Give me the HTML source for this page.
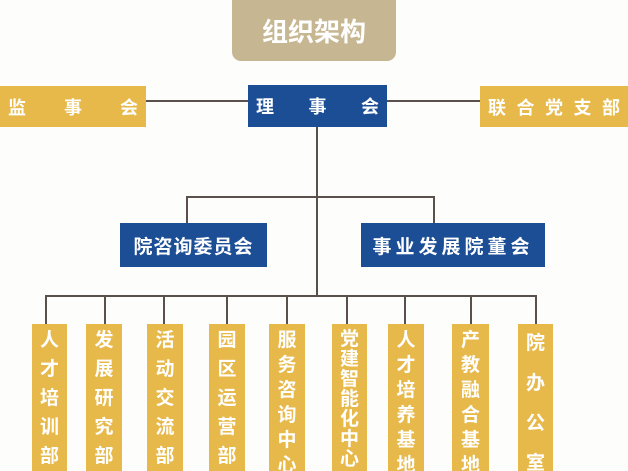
<!DOCTYPE html>
<html><head><meta charset="utf-8"><style>
body{margin:0;width:628px;height:471px;background:#fdfdfc;position:relative;overflow:hidden;font-family:"Liberation Sans","Noto Sans CJK SC",sans-serif;font-weight:bold;color:#fff}
.b{position:absolute;box-sizing:border-box}
.y{background:#e7b94a}
.bl{background:#1c4e96}
.l{position:absolute;background:#5a514c}
.row{display:flex;justify-content:space-between;align-items:center;padding:0 10px}
.v{top:324px;height:147px;overflow:hidden;text-align:center;font-size:19px}
.v span{display:block}
.c5{padding-top:2px;line-height:29px}
.c6{padding-top:4px;line-height:25px}
.c7{padding-top:6px;line-height:20px}
.c4{padding-top:0;line-height:40px;padding-top:0}
</style></head><body>
<div class="b" style="left:232px;top:0;width:164px;height:61px;background:#c6b792;border-radius:0 0 9px 9px;font-size:26px;display:flex;align-items:center;justify-content:center">组织架构</div>

<div class="l" style="left:146px;top:100px;width:102px;height:2px"></div>
<div class="l" style="left:387px;top:100px;width:94px;height:2px"></div>
<div class="l" style="left:316px;top:127px;width:2px;height:169px"></div>
<div class="l" style="left:186px;top:196px;width:249px;height:2px"></div>
<div class="l" style="left:186px;top:196px;width:2px;height:27px"></div>
<div class="l" style="left:433px;top:196px;width:2px;height:27px"></div>
<div class="l" style="left:45px;top:295px;width:492px;height:2px"></div>
<div class="l" style="left:45px;top:295px;width:2px;height:29px"></div>
<div class="l" style="left:104px;top:295px;width:2px;height:29px"></div>
<div class="l" style="left:163px;top:295px;width:2px;height:29px"></div>
<div class="l" style="left:226px;top:295px;width:2px;height:29px"></div>
<div class="l" style="left:286px;top:295px;width:2px;height:29px"></div>
<div class="l" style="left:346px;top:295px;width:2px;height:29px"></div>
<div class="l" style="left:404px;top:295px;width:2px;height:29px"></div>
<div class="l" style="left:470px;top:295px;width:2px;height:29px"></div>
<div class="l" style="left:535px;top:295px;width:2px;height:29px"></div>

<div class="b y row" style="left:0;top:86px;width:146px;height:41px;font-size:18px;padding:0 8px"><span>监</span><span>事</span><span>会</span></div>
<div class="b bl row" style="left:248px;top:85px;width:139px;height:42px;font-size:18px;padding:0 8px"><span>理</span><span>事</span><span>会</span></div>
<div class="b y row" style="left:480px;top:86px;width:148px;height:41px;font-size:18px;padding:0 8px"><span>联</span><span>合</span><span>党</span><span>支</span><span>部</span></div>

<div class="b bl" style="left:120px;top:223px;width:147px;height:44px;font-size:19px;display:flex;align-items:center;justify-content:center;letter-spacing:1px">院咨询委员会</div>
<div class="b bl" style="left:361px;top:223px;width:184px;height:44px;font-size:19px;display:flex;align-items:center;justify-content:center;letter-spacing:4px">事业发展院董会</div>

<div class="b y v c5" style="left:32px;width:35px"><span>人</span><span>才</span><span>培</span><span>训</span><span>部</span></div>
<div class="b y v c5" style="left:86px;width:36px"><span>发</span><span>展</span><span>研</span><span>究</span><span>部</span></div>
<div class="b y v c5" style="left:147px;width:36px"><span>活</span><span>动</span><span>交</span><span>流</span><span>部</span></div>
<div class="b y v c5" style="left:209px;width:36px"><span>园</span><span>区</span><span>运</span><span>营</span><span>部</span></div>
<div class="b y v c6" style="left:269px;width:36px"><span>服</span><span>务</span><span>咨</span><span>询</span><span>中</span><span>心</span></div>
<div class="b y v c7" style="left:332px;width:35px"><span>党</span><span>建</span><span>智</span><span>能</span><span>化</span><span>中</span><span>心</span></div>
<div class="b y v c6" style="left:388px;width:36px"><span>人</span><span>才</span><span>培</span><span>养</span><span>基</span><span>地</span></div>
<div class="b y v c6" style="left:452px;width:37px"><span>产</span><span>教</span><span>融</span><span>合</span><span>基</span><span>地</span></div>
<div class="b y v c4" style="left:518px;width:35px"><span>院</span><span>办</span><span>公</span><span>室</span></div>
</body></html>
